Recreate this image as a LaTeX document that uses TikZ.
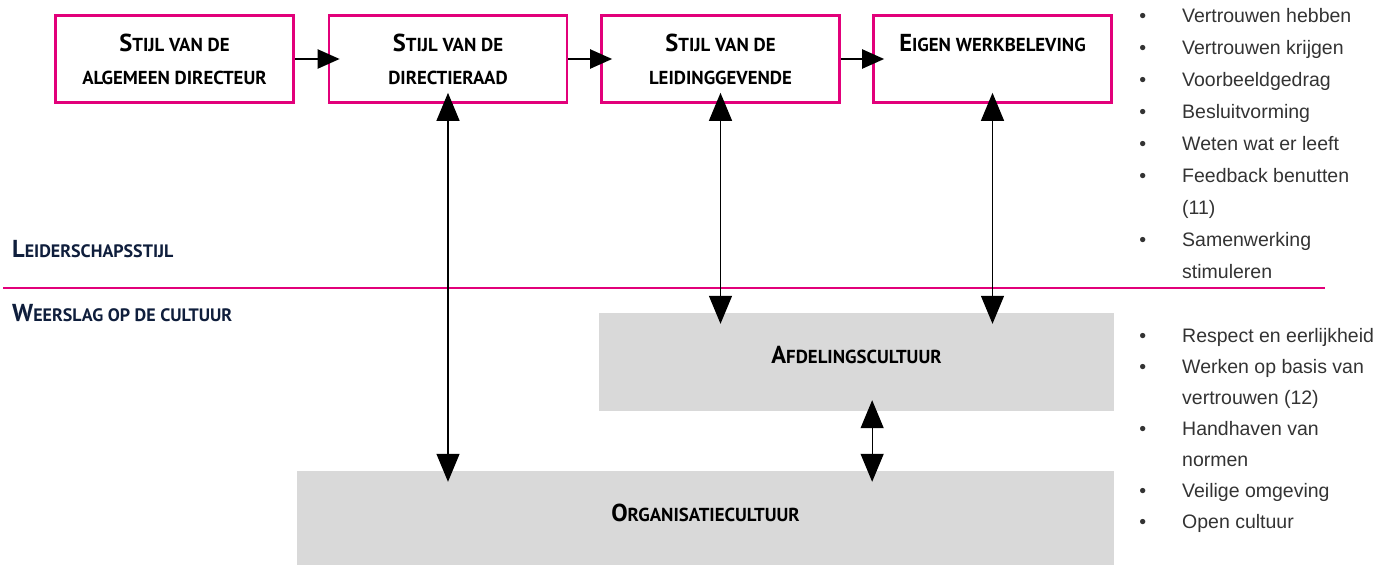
\documentclass[tikz,border=0pt]{standalone}
\usepackage{fontspec}
\setmainfont{Liberation Sans}
\newfontfamily\kopfont{PT Sans}
\usetikzlibrary{arrows.meta}

\definecolor{roze}{HTML}{E2007A}
\definecolor{lichtgrijs}{HTML}{D9D9D9}
\definecolor{donkerblauw}{HTML}{0F1E3C}
\definecolor{tekstgrijs}{HTML}{333333}

\newcommand\kap[2]{{\fontsize{24.5}{33}\selectfont #1}\MakeUppercase{#2}}
\newcommand\punt{\llap{\textbullet\hspace{36pt}}}

\begin{document}
\begin{tikzpicture}[x=1pt,y=-1pt,
  stijlbox/.style={draw=roze, line width=2.7pt, minimum width=238pt, minimum height=87pt, inner sep=0pt, align=center, text=black, font=\kopfont\bfseries\fontsize{18.8}{33}\selectfont},
  cultuurbox/.style={fill=lichtgrijs, inner sep=0pt, text=black, font=\kopfont\bfseries\fontsize{18.8}{33}\selectfont},
  kopje/.style={anchor=base west, inner sep=0pt, text=donkerblauw, font=\kopfont\bfseries\fontsize{18}{33}\selectfont},
  lijst/.style={anchor=north west, align=left, inner sep=0pt, text=tekstgrijs},
  pijl/.style={-{Triangle[length=22pt,width=19pt]}, line width=2.2pt, shorten >=-12pt},
  dubbel/.style={{Triangle[length=28pt,width=23pt]}-{Triangle[length=28pt,width=23pt]}, line width=1.3pt, shorten >=-11pt, shorten <=-11pt}]

\useasboundingbox (0,0) rectangle (1395,565);

% bovenste rij
\node[stijlbox] (directeur) at (174.5,59) {\kap{S}{tijl van de}\\\MakeUppercase{algemeen directeur}};
\node[stijlbox] (directieraad) at (448,59) {\kap{S}{tijl van de}\\\MakeUppercase{directieraad}};
\node[stijlbox] (leiding) at (720.5,59) {\kap{S}{tijl van de}\\\MakeUppercase{leidinggevende}};
\node[stijlbox] (werkbeleving) at (992.5,59) {\kap{E}{igen werkbeleving}\\\mbox{}};

\draw[pijl] (directeur) -- (directieraad);
\draw[pijl] (directieraad) -- (leiding);
\draw[pijl] (leiding) -- (werkbeleving);

% scheiding
\node[kopje] (stijl) at (12,257) {\kap{L}{eiderschapsstijl}};
\node[kopje] (weerslag) at (12,321) {\kap{W}{eerslag op de cultuur}};
\draw[roze, line width=1.3pt] (3,288) -- (1325,288);

% culturen
\node[cultuurbox, minimum width=515pt, minimum height=98pt, text depth=14pt] (afdeling) at (856.5,362) {\kap{A}{fdelingscultuur}};
\node[cultuurbox, minimum width=817pt, minimum height=94pt, text depth=11pt] (organisatie) at (705.5,518) {\kap{O}{rganisatiecultuur}};

\draw[dubbel] (directieraad.south) -- (directieraad.south |- organisatie.north);
\draw[dubbel] (leiding.south) -- (leiding.south |- afdeling.north);
\draw[dubbel] (werkbeleving.south) -- (werkbeleving.south |- afdeling.north);
\draw[dubbel] (afdeling.south -| werkbeleving.west) -- (organisatie.north -| werkbeleving.west);

% lijsten
\node[lijst, font=\fontsize{19.5}{32}\selectfont] (leiderschap) at (1182,8) {\punt Vertrouwen hebben\\\punt Vertrouwen krijgen\\\punt Voorbeeldgedrag\\\punt Besluitvorming\\\punt Weten wat er leeft\\\punt Feedback benutten\\(11)\\\punt Samenwerking\\stimuleren};
\node[lijst, font=\fontsize{19.5}{31}\selectfont] (cultuur) at (1182,328) {\punt Respect en eerlijkheid\\\punt Werken op basis van\\vertrouwen (12)\\\punt Handhaven van\\normen\\\punt Veilige omgeving\\\punt Open cultuur};

\end{tikzpicture}
\end{document}
